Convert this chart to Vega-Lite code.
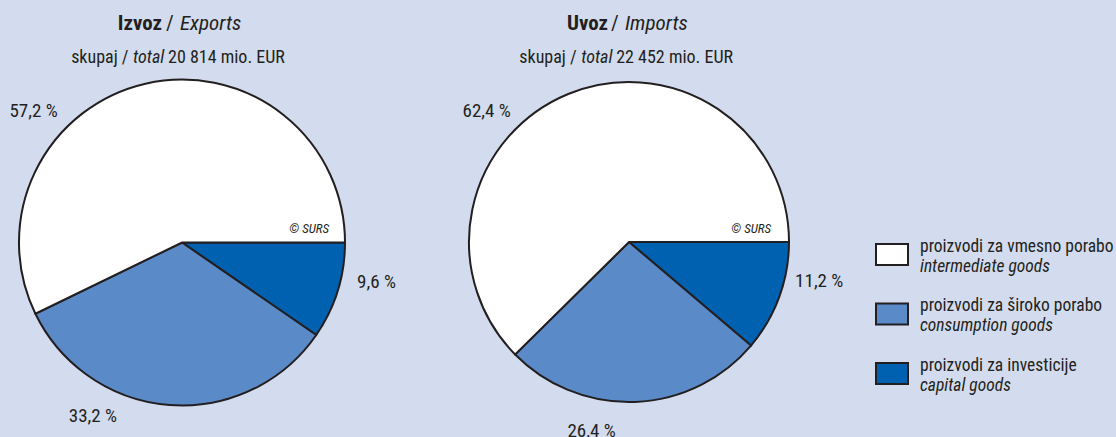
{
  "$schema": "https://vega.github.io/schema/vega-lite/v6.json",
  "width": 1116,
  "height": 437,
  "padding": 0,
  "autosize": {"type": "none"},
  "background": "#d3dcee",
  "config": {
    "view": {"stroke": null},
    "font": "Liberation Sans Narrow, Roboto Condensed, DejaVu Sans Condensed, sans-serif",
    "text": {"color": "#231f20"}
  },
  "data": {
    "values": [
      {"pie": "Izvoz", "cat": "capital", "i": 1, "pct": 9.6, "sl": "proizvodi za investicije", "en": "capital goods"},
      {"pie": "Izvoz", "cat": "consumption", "i": 2, "pct": 33.2, "sl": "proizvodi za široko porabo", "en": "consumption goods"},
      {"pie": "Izvoz", "cat": "intermediate", "i": 3, "pct": 57.2, "sl": "proizvodi za vmesno porabo", "en": "intermediate goods"},
      {"pie": "Uvoz", "cat": "capital", "i": 1, "pct": 11.2, "sl": "proizvodi za investicije", "en": "capital goods"},
      {"pie": "Uvoz", "cat": "consumption", "i": 2, "pct": 26.4, "sl": "proizvodi za široko porabo", "en": "consumption goods"},
      {"pie": "Uvoz", "cat": "intermediate", "i": 3, "pct": 62.4, "sl": "proizvodi za vmesno porabo", "en": "intermediate goods"}
    ]
  },
  "layer": [
    {
      "transform": [{"filter": "datum.pie === 'Izvoz'"}],
      "mark": {"type": "arc", "x": 182, "y": 242.5, "outerRadius": 163, "stroke": "#231f20", "strokeWidth": 2},
      "encoding": {
        "theta": {"field": "pct", "type": "quantitative", "stack": true, "scale": {"domain": [0, 100], "range": [1.5707963, 7.8539816]}},
        "order": {"field": "i", "type": "quantitative"},
        "color": {"field": "cat", "type": "nominal", "scale": {"domain": ["intermediate", "consumption", "capital"], "range": ["#ffffff", "#5b8ac8", "#0061b0"]}, "legend": null}
      }
    },
    {
      "transform": [{"filter": "datum.pie === 'Uvoz'"}],
      "mark": {"type": "arc", "x": 629, "y": 242, "outerRadius": 160, "stroke": "#231f20", "strokeWidth": 2},
      "encoding": {
        "theta": {"field": "pct", "type": "quantitative", "stack": true},
        "order": {"field": "i", "type": "quantitative"},
        "color": {"field": "cat", "type": "nominal", "legend": null}
      }
    },
    {
      "transform": [
        {"filter": "datum.pie === 'Izvoz'"},
        {"calculate": "replace(format(datum.pct, '.1f'), '.', ',') + ' %'", "as": "label"}
      ],
      "mark": {
        "type": "text", "x": 182, "y": 242.5, "radius": 200, "fontSize": 19, "align": "center", "baseline": "alphabetic",
        "dx": {"expr": "datum.cat === 'capital' ? 3.5 : datum.cat === 'consumption' ? -74 : -103.6"},
        "dy": {"expr": "datum.cat === 'capital' ? -14 : datum.cat === 'consumption' ? -20 : 69.4"}
      },
      "encoding": {
        "theta": {"field": "pct", "type": "quantitative", "stack": true},
        "order": {"field": "i", "type": "quantitative"},
        "text": {"field": "label"}
      }
    },
    {
      "transform": [
        {"filter": "datum.pie === 'Uvoz'"},
        {"calculate": "replace(format(datum.pct, '.1f'), '.', ',') + ' %'", "as": "label"}
      ],
      "mark": {
        "type": "text", "x": 629, "y": 242, "radius": 200, "fontSize": 19, "align": "center", "baseline": "alphabetic",
        "dx": {"expr": "datum.cat === 'capital' ? 2.5 : datum.cat === 'consumption' ? -45 : -66.4"},
        "dy": {"expr": "datum.cat === 'capital' ? -24.2 : datum.cat === 'consumption' ? -5.2 : 59.7"}
      },
      "encoding": {
        "theta": {"field": "pct", "type": "quantitative", "stack": true},
        "order": {"field": "i", "type": "quantitative"},
        "text": {"field": "label"}
      }
    },
    {
      "transform": [{"filter": "datum.pie === 'Izvoz'"}],
      "mark": {"type": "point", "x": 892, "shape": "M-1,-0.656L1,-0.656L1,0.656L-1,0.656Z", "size": 1024, "filled": true, "opacity": 1, "stroke": "#231f20", "strokeWidth": 2},
      "encoding": {
        "y": {"field": "cat", "type": "nominal", "scale": {"type": "point", "domain": ["intermediate", "consumption", "capital"], "range": [254.5, 373.5], "padding": 0}, "axis": null},
        "color": {"field": "cat", "type": "nominal", "legend": null}
      }
    },
    {
      "transform": [{"filter": "datum.pie === 'Izvoz'"}],
      "mark": {"type": "text", "x": 920, "dy": -3, "align": "left", "baseline": "alphabetic", "fontSize": 17.5},
      "encoding": {
        "y": {"field": "cat", "type": "nominal"},
        "text": {"field": "sl"}
      }
    },
    {
      "transform": [{"filter": "datum.pie === 'Izvoz'"}],
      "mark": {"type": "text", "x": 920, "dy": 17, "align": "left", "baseline": "alphabetic", "fontSize": 17.5, "fontStyle": "italic"},
      "encoding": {
        "y": {"field": "cat", "type": "nominal"},
        "text": {"field": "en"}
      }
    },
    {
      "data": {"values": [{}]},
      "layer": [
        {"mark": {"type": "text", "text": "Izvoz", "x": 162, "y": 30, "align": "right", "baseline": "alphabetic", "fontSize": 21, "fontWeight": "bold"}},
        {"mark": {"type": "text", "text": "/", "x": 170, "y": 30, "align": "center", "baseline": "alphabetic", "fontSize": 21}},
        {"mark": {"type": "text", "text": "Exports", "x": 180, "y": 30, "align": "left", "baseline": "alphabetic", "fontSize": 21, "fontStyle": "italic"}},
        {"mark": {"type": "text", "text": "skupaj /", "x": 128.5, "y": 63, "align": "right", "baseline": "alphabetic", "fontSize": 18}},
        {"mark": {"type": "text", "text": "total", "x": 133, "y": 63, "align": "left", "baseline": "alphabetic", "fontSize": 18, "fontStyle": "italic"}},
        {"mark": {"type": "text", "text": "20 814 mio. EUR", "x": 168, "y": 63, "align": "left", "baseline": "alphabetic", "fontSize": 18}},
        {"mark": {"type": "text", "text": "Uvoz", "x": 608, "y": 30, "align": "right", "baseline": "alphabetic", "fontSize": 21, "fontWeight": "bold"}},
        {"mark": {"type": "text", "text": "/", "x": 615, "y": 30, "align": "center", "baseline": "alphabetic", "fontSize": 21}},
        {"mark": {"type": "text", "text": "Imports", "x": 625, "y": 30, "align": "left", "baseline": "alphabetic", "fontSize": 21, "fontStyle": "italic"}},
        {"mark": {"type": "text", "text": "skupaj /", "x": 576.7, "y": 63, "align": "right", "baseline": "alphabetic", "fontSize": 18}},
        {"mark": {"type": "text", "text": "total", "x": 581.2, "y": 63, "align": "left", "baseline": "alphabetic", "fontSize": 18, "fontStyle": "italic"}},
        {"mark": {"type": "text", "text": "22 452 mio. EUR", "x": 616.2, "y": 63, "align": "left", "baseline": "alphabetic", "fontSize": 18}},
        {"mark": {"type": "text", "text": "© SURS", "x": 329, "y": 233, "align": "right", "baseline": "alphabetic", "fontSize": 13, "fontStyle": "italic"}},
        {"mark": {"type": "text", "text": "© SURS", "x": 771, "y": 233, "align": "right", "baseline": "alphabetic", "fontSize": 13, "fontStyle": "italic"}}
      ]
    }
  ]
}
